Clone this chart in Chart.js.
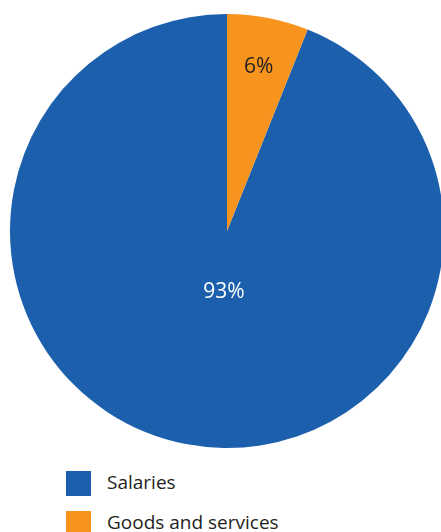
<!DOCTYPE html>
<html>
<head>
<meta charset="utf-8">
<script src="https://cdn.jsdelivr.net/npm/chart.js@4/dist/chart.umd.min.js"></script>
<style>
    html, body { margin: 0; padding: 0; background: #fff; overflow: hidden; }
    body { width: 441px; height: 532px; position: relative; font-family: 'Open Sans', sans-serif; }
    #pieWrap { position: absolute; left: 0; top: 0; width: 444px; height: 450px; }
    #legend { position: absolute; left: 66px; top: 471px; }
    .item { display: flex; align-items: center; height: 25px; margin-bottom: 15px; }
    .swatch { width: 25px; height: 25px; margin-right: 16px; }
    .item span { font-size: 19px; color: #231f20; position: relative; top: -2px; }
</style>
</head>
<body>
<div id="pieWrap"><canvas id="pie"></canvas></div>
<div id="legend"></div>
<script>
// values (percent of spending)
const categories = ['Salaries', 'Goods and services'];
const shares = [93, 6];
const sliceColors = ['#1c5fad', '#f7941d'];
const labelColors = ['#ffffff', '#231f20'];

// orange slice starts at 12 o'clock, so rotate by its share
const total = shares.reduce((a, b) => a + b, 0);
const rotation = shares[1] / total * 360;

const sliceLabels = {
    id: 'sliceLabels',
    afterDatasetsDraw(chart) {
        const ctx = chart.ctx;
        const arcs = chart.getDatasetMeta(0).data;
        ctx.save();
        ctx.font = "21px 'Open Sans', sans-serif";
        ctx.textAlign = 'center';
        ctx.textBaseline = 'middle';
        arcs.forEach((arc, i) => {
            const { x, y, outerRadius, startAngle, endAngle } = arc.getProps(['x', 'y', 'outerRadius', 'startAngle', 'endAngle'], true);
            let px, py;
            if (i === 0) {
                // big slice: label sits just below the centre
                px = x - 3;
                py = y + outerRadius * 0.28;
            } else {
                const mid = (startAngle + endAngle) / 2;
                px = x + Math.cos(mid) * outerRadius * 0.77;
                py = y + Math.sin(mid) * outerRadius * 0.77;
            }
            ctx.fillStyle = labelColors[i];
            ctx.fillText(shares[i] + '%', px, py);
        });
        ctx.restore();
    }
};

new Chart(document.getElementById('pie'), {
    type: 'pie',
    data: {
        labels: categories,
        datasets: [{
            data: shares,
            backgroundColor: sliceColors,
            borderWidth: 0
        }]
    },
    options: {
        responsive: true,
        maintainAspectRatio: false,
        animation: false,
        devicePixelRatio: 1,
        rotation: rotation,
        layout: { padding: { left: 10, right: 0, top: 14, bottom: 2 } },
        plugins: {
            legend: { display: false },
            tooltip: { enabled: false }
        }
    },
    plugins: [sliceLabels]
});

const legend = document.getElementById('legend');
categories.forEach((name, i) => {
    const row = document.createElement('div');
    row.className = 'item';
    row.innerHTML = '<div class="swatch" style="background:' + sliceColors[i] + '"></div><span>' + name + '</span>';
    legend.appendChild(row);
});
</script>
</body>
</html>
